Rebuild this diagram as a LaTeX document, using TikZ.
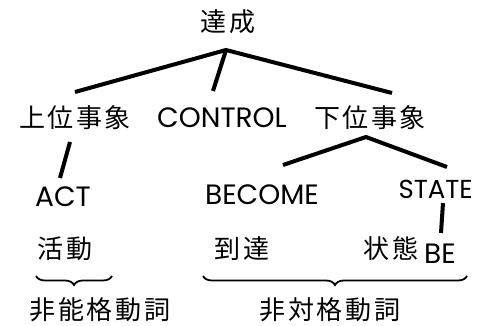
\documentclass[tikz,border=0pt]{standalone}
\usepackage{fontspec}
\setmainfont{Poppins}
\newfontfamily\cjk[LetterSpace=10]{Noto Sans CJK JP}
\usetikzlibrary{decorations.pathreplacing}
\begin{document}
\begin{tikzpicture}[x=1pt,y=-1pt,
  cj/.style={inner sep=0pt, font=\cjk\fontsize{26}{26}\selectfont},
  la/.style={inner sep=0pt, font=\fontsize{28}{28}\selectfont},
  edge/.style={line width=4pt},
  brc/.style={line width=1.8pt, decorate, decoration={brace, mirror, amplitude=9pt}}]
\useasboundingbox (0,0) rectangle (477,326);
\node[cj] (top) at (228,22) {達成};
\node[cj] (ue) at (75,118) {上位事象};
\node[la] (ctrl) at (222,118) {CONTROL};
\node[cj] (shita) at (370,118) {下位事象};
\node[la] (act) at (63,197) {ACT};
\node[la] (bec) at (262,195) {BECOME};
\node[la, anchor=east, font=\fontsize{26}{26}\selectfont] (st) at (473,189) {STATE};
\node[cj] (katsu) at (65,249) {活動};
\node[cj] (tou) at (242,249) {到達};
\node[cj] (jou) at (391,249) {状態};
\node[la] (be) at (440,254) {BE};
\node[cj] (hino) at (100,310) {非能格動詞};
\node[cj] (hitai) at (330,310) {非対格動詞};
% connector end points
\coordinate (apex) at (226,50);
\coordinate (ueT) at (75,92);
\coordinate (ctT) at (213,91);
\coordinate (shT) at (392,93);
\coordinate (ueB) at (70,142);
\coordinate (actT) at (60,178);
\coordinate (apex2) at (366,137);
\coordinate (becT) at (283,165);
\coordinate (stT) at (447,167);
\coordinate (stB) at (443,203);
\coordinate (beT) at (441,233);
\coordinate (b1L) at (36,276);
\coordinate (b1R) at (112,276);
\coordinate (b2L) at (203,276);
\coordinate (b2R) at (467,276);
\draw[edge] (ueT) -- (apex) -- (shT);
\draw[edge] (apex) -- (ctT);
\draw[edge] (ueB) -- (actT);
\draw[edge] (becT) -- (apex2) -- (stT);
\draw[edge] (stB) -- (beT);
\draw[brc] (b1L) -- (b1R);
\draw[brc] (b2L) -- (b2R);
\end{tikzpicture}
\end{document}
